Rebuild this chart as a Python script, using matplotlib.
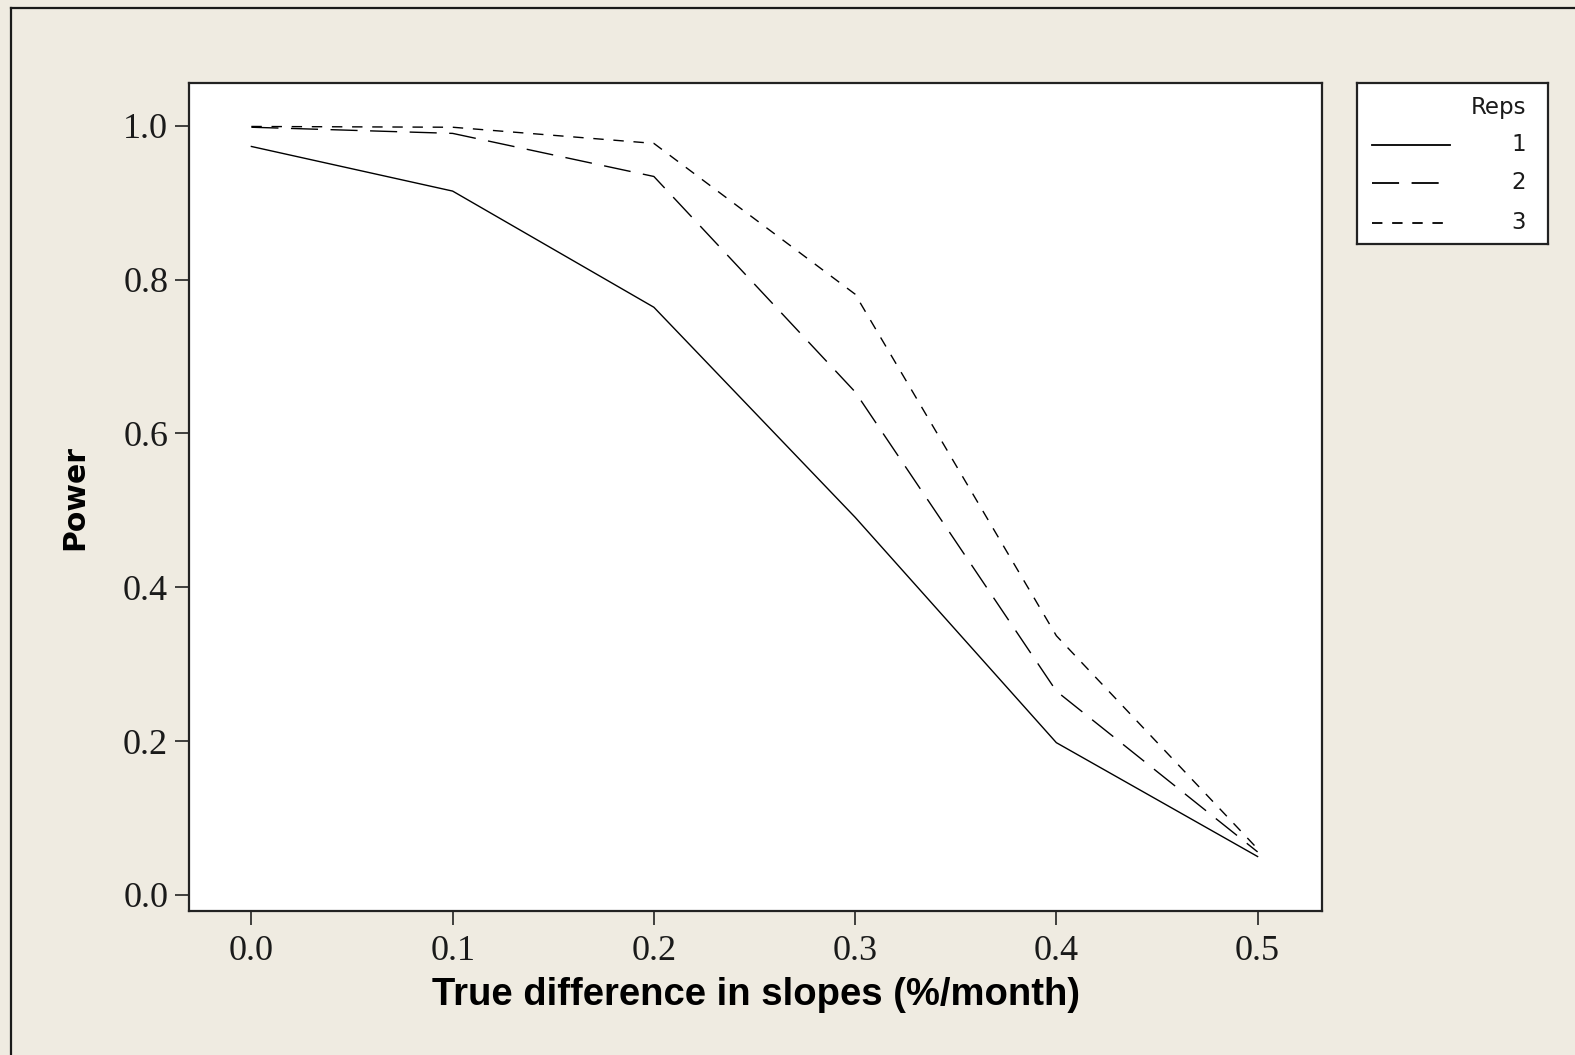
import matplotlib
matplotlib.use("Agg")
import matplotlib.pyplot as plt
from matplotlib.lines import Line2D

# ---- data ----
diffs = [0.0, 0.1, 0.2, 0.3, 0.4, 0.5]
power_rep1 = [0.973, 0.915, 0.764, 0.491, 0.198, 0.050]
power_rep2 = [0.998, 0.990, 0.934, 0.654, 0.265, 0.056]
power_rep3 = [0.999, 0.998, 0.977, 0.781, 0.337, 0.060]
rep_labels = ["1", "2", "3"]
xticks = [0.0, 0.1, 0.2, 0.3, 0.4, 0.5]
yticks = [0.0, 0.2, 0.4, 0.6, 0.8, 1.0]
xlabel = "True difference in slopes (%/month)"
ylabel = "Power"
legend_title = "Reps"

plt.rcParams['lines.scale_dashes'] = False
W, H = 1575, 1055
bg = '#EFEBE1'
ink = '#222222'
fig = plt.figure(figsize=(W / 100, H / 100), dpi=100, facecolor=bg)

ax = fig.add_axes([189 / W, 1 - 911 / H, (1322 - 189) / W, (911 - 83) / H])
ax.set_facecolor('white')

styles = [dict(linestyle='-'),
          dict(dashes=(19.5, 9.0)),
          dict(dashes=(7.5, 7.0))]
series = [power_rep1, power_rep2, power_rep3]
for vals, st in zip(series, styles):
    ax.plot(diffs, vals, color='black', linewidth=1.0, **st)

ax.set_xlim(-0.031, 0.532)
ax.set_ylim(-0.0208, 1.0555)
ax.set_xticks(xticks)
ax.set_yticks(yticks)
ax.set_xticklabels([f"{v:.1f}" for v in xticks])
ax.set_yticklabels([f"{v:.1f}" for v in yticks])
for sp in ax.spines.values():
    sp.set_linewidth(1.6)
    sp.set_color(ink)
ax.tick_params(axis='both', direction='out', length=10, width=1.2, color=ink,
               labelcolor='#1a1a1a')
ax.tick_params(axis='x', pad=7)
ax.tick_params(axis='y', pad=5)
for lab in ax.get_xticklabels() + ax.get_yticklabels():
    lab.set_fontfamily('Liberation Serif')
    lab.set_fontsize(26)

ax.set_xlabel(xlabel, fontsize=27.5, fontweight='bold', family='Liberation Sans',
              color='black', labelpad=7)
ax.set_ylabel(ylabel, fontsize=21.5, fontweight='bold', family='DejaVu Sans',
              color='black', labelpad=24)

# legend box
lx0, ly0, lx1, ly1 = 1357, 83, 1548, 244
lax = fig.add_axes([lx0 / W, 1 - ly1 / H, (lx1 - lx0) / W, (ly1 - ly0) / H])
lax.set_xlim(0, lx1 - lx0)
lax.set_ylim(ly1 - ly0, 0)
lax.set_xticks([])
lax.set_yticks([])
lax.set_facecolor('white')
for sp in lax.spines.values():
    sp.set_linewidth(1.6)
    sp.set_color(ink)
lax.text(169, 25, legend_title, ha='right', va='center', fontsize=16.5,
         family='DejaVu Sans', color='#1a1a1a')
rows = [62, 100, 140]
line_ends = [93, 86, 87]
for lab, st, yy, xe in zip(rep_labels, styles, rows, line_ends):
    lax.add_line(Line2D([15, xe], [yy, yy], color='black', linewidth=1.3, **st))
    lax.text(169, yy, lab, ha='right', va='center', fontsize=16.5,
             family='DejaVu Sans', color='#1a1a1a')

# window border (left and top)
fig.add_artist(Line2D([10.5 / W, 10.5 / W], [0, 1 - 8 / H], transform=fig.transFigure,
                      color='#1a1a1a', linewidth=1.6))
fig.add_artist(Line2D([10.5 / W, 1], [1 - 8 / H, 1 - 8 / H], transform=fig.transFigure,
                      color='#1a1a1a', linewidth=1.6))

fig.savefig('out.png', dpi=100, facecolor=bg)
